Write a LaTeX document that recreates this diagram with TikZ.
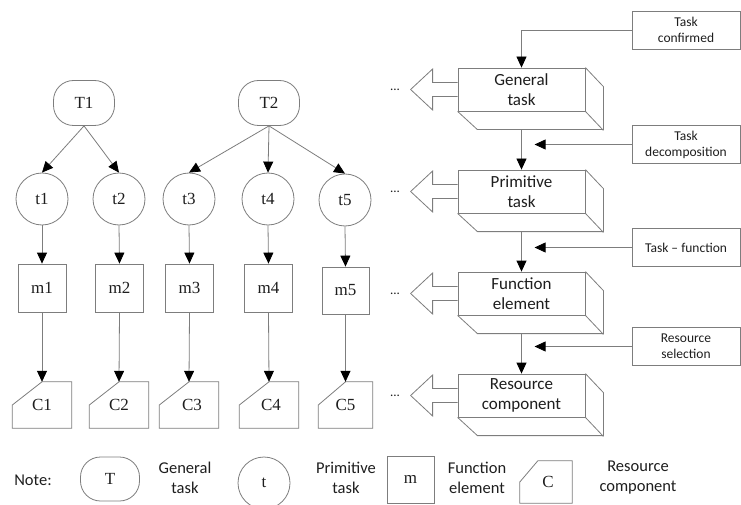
\documentclass[tikz,border=0pt]{standalone}
\usepackage{fontspec}
\setmainfont{Liberation Serif}
\newfontfamily\calib{Carlito}
\usetikzlibrary{arrows.meta}
\definecolor{ln}{RGB}{125,125,125}
\definecolor{tx}{RGB}{30,30,30}
\begin{document}
\begin{tikzpicture}[x=1pt,y=-1pt,
  line/.style={draw=ln, line width=0.8pt},
  arr/.style={line, -{Triangle[length=11pt,width=10pt,color=black]}},
  serif/.style={font=\fontsize{17}{20}\selectfont, text=tx},
  Tnode/.style={line, serif, rounded corners=20pt, minimum width=61pt, minimum height=45pt, inner sep=0pt},
  tnode/.style={line, serif, circle, minimum size=52pt, inner sep=0pt},
  mnode/.style={line, serif, rectangle, minimum size=48pt, inner sep=0pt},
  cnode/.style={serif, rectangle, minimum width=59pt, minimum height=46pt, inner sep=0pt},
  front/.style={line, fill=white, minimum width=127pt, minimum height=43pt, inner sep=0pt, align=center, text=tx, font=\calib\fontsize{17}{20}\selectfont},
  lab/.style={line, minimum width=108pt, minimum height=38pt, inner sep=0pt, align=center, text=tx, font=\calib\fontsize{13.5}{16}\selectfont},
  legtxt/.style={align=center, text=tx, font=\calib\fontsize{16.5}{20}\selectfont},
  dots/.style={text=tx, font=\calib\fontsize{13}{14}\selectfont}
]
\useasboundingbox (0,0) rectangle (741,505);

% ---------- tree ----------
\node[Tnode] (T1) at (84,103) {T1};
\node[Tnode] (T2) at (269,103) {T2};
\node[tnode] (t1) at (42,199) {t1};
\node[tnode] (t2) at (119,199) {t2};
\node[tnode] (t3) at (189,199) {t3};
\node[tnode] (t4) at (268,199) {t4};
\node[tnode] (t5) at (345,200) {t5};
\node[mnode] (m1) at (42,288) {m1};
\node[mnode] (m2) at (119.5,288) {m2};
\node[mnode] (m3) at (189.5,288) {m3};
\node[mnode] (m4) at (268.5,288) {m4};
\node[mnode, minimum size=47pt] (m5) at (345.5,290.5) {m5};
\node[cnode] (C1) at (42,405) {C1};
\node[cnode] (C2) at (119,405) {C2};
\node[cnode] (C3) at (189,405) {\hspace{6pt}C3};
\node[cnode] (C4) at (269,405) {\hspace{4pt}C4};
\node[cnode, minimum width=54pt] (C5) at (345.5,405) {C5};
\foreach \n in {C1,C2,C3,C4,C5}
  \draw[line] (\n.west) -- (\n.north) -- (\n.north east) -- (\n.south east) -- (\n.south west) -- cycle;

\draw[arr] (T1.south) -- (t1.north);
\draw[arr] (T1.south) -- (t2.north);
\draw[arr] (T2.south) -- (t3.north);
\draw[arr] (T2.south) -- (t4.north);
\draw[arr] (T2.south) -- (t5.north);
\foreach \i in {1,...,5} {
  \draw[arr] (t\i.south) -- (m\i.north);
  \draw[arr] (m\i.south) -- (C\i.north);
}

% ---------- right column ----------
\foreach \nm/\y/\txt in {gt/89.5/General\\task, pt/191.5/Primitive\\task, fe/293.5/Function\\element, rc/395.5/Resource\\component} {
  \node[front] (\nm) at (521.5,\y) {\txt};
  \draw[line, line join=miter] (\nm.north east) -- ++(18,19) -- ++(0,43) -- ++(-126,0) -- (\nm.south west);
  \draw[line] (\nm.south east) -- ++(18,19);
  \draw[line, fill=white, line join=miter] ([yshift=7pt]\nm.west) -- ++(-25,0) -- ++(0,-13.5) -- ++(-22,20.5) -- ++(22,20.5) -- ++(0,-13.5) -- ([yshift=-7pt]\nm.west);
  \node[dots] (d\nm) at (395,\y) {...};
}

\node[lab] (tc) at (686,30) {Task\\confirmed};
\node[lab] (td) at (686,144.5) {Task\\decomposition};
\node[lab] (tf) at (686,247.5) {Task – function};
\node[lab] (rs) at (686,346.5) {Resource\\selection};

\draw[arr] (tc.west) -| (gt.north);
\draw[arr] ([yshift=-19pt]gt.south) -- (pt.north);
\draw[arr] ([yshift=-19pt]pt.south) -- (fe.north);
\draw[arr] ([yshift=-19pt]fe.south) -- (rc.north);
\draw[arr] (td.west) -- ++(-97,0);
\draw[arr] (tf.west) -- ++(-97,0);
\draw[arr] (rs.west) -- ++(-97,0);

% ---------- legend ----------
\node[legtxt] (note) at (33,480) {Note:};
\node[Tnode, minimum width=59pt, minimum height=44pt] (LT) at (110,479) {T};
\node[legtxt] (LTt) at (185,478) {General\\task};
\node[tnode] (Lt) at (264,483) {t};
\node[legtxt] (Ltt) at (346,478) {Primitive\\task};
\node[mnode, minimum size=47pt] (Lm) at (410.5,479.5) {m};
\node[legtxt] (Lmt) at (477,478) {Function\\element};
\node[cnode, minimum width=52pt, minimum height=42pt] (LC) at (546,482) {\hspace{4pt}C};
\draw[line] (LC.west) -- ([xshift=18pt]LC.north west) -- (LC.north east) -- (LC.south east) -- (LC.south west) -- cycle;
\node[legtxt] (LCt) at (638,478) {Resource\\component};
\end{tikzpicture}
\end{document}
